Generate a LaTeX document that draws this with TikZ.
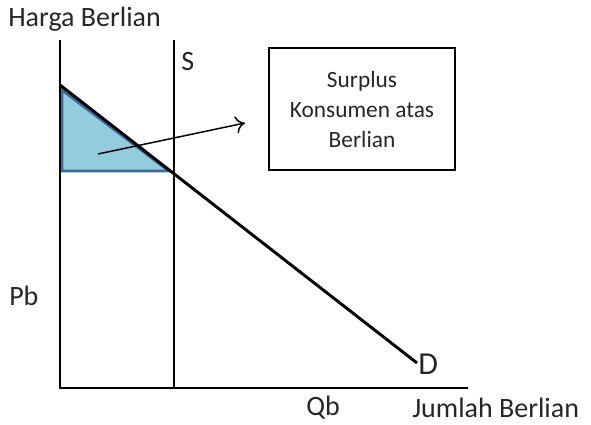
\documentclass[tikz,border=0pt]{standalone}
\usepackage{fontspec}
\setmainfont{Carlito}
\usetikzlibrary{arrows.meta}
\definecolor{txt}{HTML}{262626}
\definecolor{fillblue}{HTML}{93CDDD}
\definecolor{edgeblue}{HTML}{3A6A9E}
\begin{document}
\begin{tikzpicture}[x=0.75pt,y=-0.75pt,
  axis/.style={line width=2.2pt,black},
  lbl/.style={text=txt,font=\fontsize{21}{24}\selectfont,inner sep=0pt},
  curve/.style={line width=2.2pt,black}]
\useasboundingbox (0,0) rectangle (591,424);
\coordinate (O) at (60,388);
\coordinate (Ytop) at (60,40);
\coordinate (Xend) at (468,388);
\coordinate (Stop) at (174,40);
\coordinate (Sbot) at (174,388);
\coordinate (Dtop) at (60,85);
\coordinate (Dend) at (417,363);
% triangle
\coordinate (T1) at (62,90);
\coordinate (T2) at (62,171);
\coordinate (T3) at (169,171);
\filldraw[fill=fillblue,draw=edgeblue,line width=2.2pt,line join=miter] (T1) -- (T2) -- (T3) -- cycle;
\draw[axis] (Ytop) -- (O) -- (Xend);
\draw[curve] (Stop) -- (Sbot);
\draw[curve] (Dtop) -- (Dend);
% box
\node[draw=black,line width=1.6pt,minimum width=139pt,minimum height=91.5pt,align=center,text=txt,font=\fontsize{17.5}{22.5}\selectfont,inner sep=0pt] (box) at (362,109) {Surplus\\Konsumen atas\\Berlian};
\coordinate (Astart) at (98,154);
\coordinate (Aend) at (245,123);
\draw[line width=1.1pt,-{To[length=7pt,width=13pt]}] (Astart) -- (Aend);
% labels
\node[lbl,anchor=west] (hb) at (8,19) {Harga Berlian};
\node[lbl,anchor=west] (s) at (181,62) {S};
\node[lbl,anchor=west] (pb) at (9,296) {Pb};
\node[lbl,anchor=west] (qb) at (306,408) {Qb};
\node[lbl,anchor=west] (jb) at (412,408) {Jumlah Berlian};
\node[lbl,anchor=west,font=\fontsize{24}{26}\selectfont] (d) at (418,364) {D};
\end{tikzpicture}
\end{document}
